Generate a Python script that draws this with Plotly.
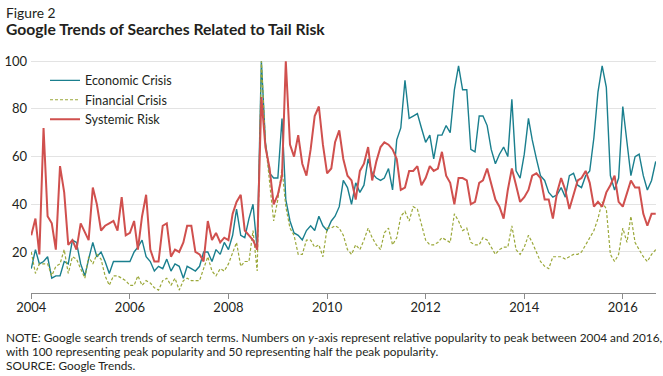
import pandas as pd
import plotly.graph_objects as go

months = pd.date_range("2004-01-01", periods=153, freq="MS")

economic_crisis = [
    13, 21, 15, 16, 18, 9, 10, 10, 16, 15, 25, 24, 15, 10, 17, 24, 18, 20, 16, 11, 16, 16, 16, 16, 16,
    20, 22, 25, 18, 16, 12, 14, 13, 17, 12, 15, 14, 9, 14, 13, 12, 14, 20, 20, 16, 21, 19, 24, 21, 27, 38, 27, 26, 34,
    40, 21, 100, 66, 53, 51, 51, 76, 42, 33, 28, 27, 25, 29, 31, 29, 35, 31, 29, 33, 35, 39, 50, 47,
    40, 49, 45, 48, 59, 53, 51, 50, 51, 55, 46, 67, 72, 92, 76, 77, 78, 72, 66, 69, 59, 69, 69, 73,
    70, 88, 98, 88, 88, 63, 62, 77, 77, 73, 63, 57, 61, 64, 60, 84, 54, 51, 61, 76, 67, 59, 52, 50, 45,
    43, 44, 47, 43, 52, 53, 48, 47, 52, 54, 68, 87, 98, 89, 52, 46, 51, 81, 66, 52, 60, 61, 52, 46, 50, 58,
]

financial_crisis = [
    20, 11, 15, 15, 15, 10, 14, 15, 21, 11, 18, 17, 13, 9, 18, 15, 19, 17, 10, 6, 10, 10, 9, 8, 6,
    6, 10, 6, 8, 7, 5, 4, 8, 9, 6, 9, 4, 8, 9, 8, 8, 8, 13, 18, 12, 10, 13, 12, 15, 20, 24, 14, 16, 16,
    29, 12, 100, 66, 50, 33, 42, 55, 39, 30, 27, 19, 19, 25, 25, 22, 23, 18, 30, 30, 31, 30, 27, 21,
    19, 23, 21, 25, 30, 26, 23, 21, 28, 30, 23, 26, 35, 37, 33, 39, 38, 31, 25, 23, 23, 24, 26, 25,
    24, 36, 33, 29, 30, 24, 23, 23, 26, 25, 22, 19, 21, 22, 22, 31, 21, 19, 22, 27, 24, 20, 16, 14, 13,
    18, 18, 18, 17, 18, 19, 19, 20, 23, 26, 29, 34, 41, 38, 19, 16, 19, 30, 24, 35, 24, 21, 18, 16, 19, 21,
]

systemic_risk = [
    27, 34, 19, 72, 35, 32, 21, 56, 45, 23, 25, 21, 32, 28, 25, 47, 40, 29, 31, 32, 33, 29, 43, 27, 28,
    33, 21, 35, 44, 21, 16, 16, 31, 32, 18, 21, 20, 24, 31, 31, 20, 19, 16, 33, 25, 28, 24, 26, 25, 36, 41, 44, 29, 27,
    25, 21, 85, 64, 55, 40, 44, 52, 100, 65, 60, 69, 57, 52, 63, 77, 81, 65, 53, 55, 66, 71, 59, 52,
    50, 42, 54, 57, 64, 50, 58, 64, 66, 65, 63, 59, 46, 47, 54, 54, 56, 48, 51, 56, 54, 55, 62, 52,
    49, 40, 51, 51, 50, 40, 41, 49, 50, 55, 49, 42, 39, 34, 46, 55, 48, 41, 43, 46, 52, 53, 51, 42, 42,
    34, 45, 51, 46, 38, 44, 50, 51, 54, 49, 39, 41, 39, 45, 48, 52, 41, 39, 45, 50, 47, 47, 36, 31, 36, 36,
]

tick_years = [2004, 2006, 2008, 2010, 2012, 2014, 2016]
y_ticks = [20, 40, 60, 80, 100]

note_lines = [
    "NOTE: Google search trends of search terms. Numbers on <i>y</i>-axis represent relative popularity to peak between 2004 and 2016,",
    "with 100 representing peak popularity and 50 representing half the peak popularity.",
    "SOURCE: Google Trends.",
]

FONT = "Lato"
TEXT = "#231f20"

fig = go.Figure()
fig.add_trace(go.Scatter(x=months, y=economic_crisis, name="Economic Crisis", mode="lines",
                         line=dict(color="#1a7f8e", width=1.4)))
fig.add_trace(go.Scatter(x=months, y=financial_crisis, name="Financial Crisis", mode="lines",
                         line=dict(color="#9ba83a", width=1.2, dash="3px,2px")))
fig.add_trace(go.Scatter(x=months, y=systemic_risk, name="Systemic Risk", mode="lines",
                         line=dict(color="#d0504e", width=2)))

X0 = -0.0432  # paper x of the left text edge (4 px)
annotations = [
    dict(text="Figure 2", xref="paper", yref="paper", x=X0, y=1.2057,
         xanchor="left", yanchor="middle", showarrow=False,
         font=dict(size=13.8, family=FONT, color=TEXT)),
    dict(text="<b>Google Trends of Searches Related to Tail Risk</b>", xref="paper", yref="paper",
         x=X0, y=1.133, xanchor="left", yanchor="middle", showarrow=False,
         font=dict(size=15.7, family=FONT, color=TEXT)),
]
for k, line in enumerate(note_lines):
    annotations.append(dict(text=line, xref="paper", yref="paper", x=X0, y=-0.1916 - 0.06 * k,
                            xanchor="left", yanchor="middle", align="left", showarrow=False,
                            font=dict(size=11.8, family=FONT, color=TEXT)))

fig.update_layout(
    template="none",
    width=663, height=376,
    margin=dict(l=31, r=7, t=60, b=83, pad=0),
    paper_bgcolor="white", plot_bgcolor="white",
    font=dict(family=FONT, color=TEXT, size=13),
    showlegend=True,
    legend=dict(x=0.0224, y=0.9756, xanchor="left", yanchor="top",
                bgcolor="rgba(0,0,0,0)", borderwidth=0,
                font=dict(size=12.6, family=FONT, color=TEXT),
                tracegroupgap=0),
    xaxis=dict(
        type="date", automargin=False,
        range=["2003-12-30", "2016-09-03"],
        tickvals=[f"{y}-01-01" for y in tick_years],
        ticktext=[str(y) for y in tick_years],
        showgrid=False, zeroline=False,
        showline=True, linecolor="#8c8c8c", linewidth=1,
        ticks="outside", ticklen=5, tickcolor="#8c8c8c", tickwidth=1,
        tickfont=dict(size=13, family=FONT, color=TEXT),
        ticklabelstandoff=-3,
    ),
    yaxis=dict(
        automargin=False,
        range=[2.8, 100.5],
        tickvals=y_ticks,
        showgrid=True, gridcolor="#e3e3e3", gridwidth=1,
        zeroline=False, showline=False, ticks="",
        tickfont=dict(size=13, family=FONT, color=TEXT),
        ticklabelstandoff=3,
    ),
    annotations=annotations,
)

fig.write_html(
    "out.html",
    config={"displayModeBar": False},
    post_script="document.body.style.margin='0';document.body.style.overflow='hidden';",
)
